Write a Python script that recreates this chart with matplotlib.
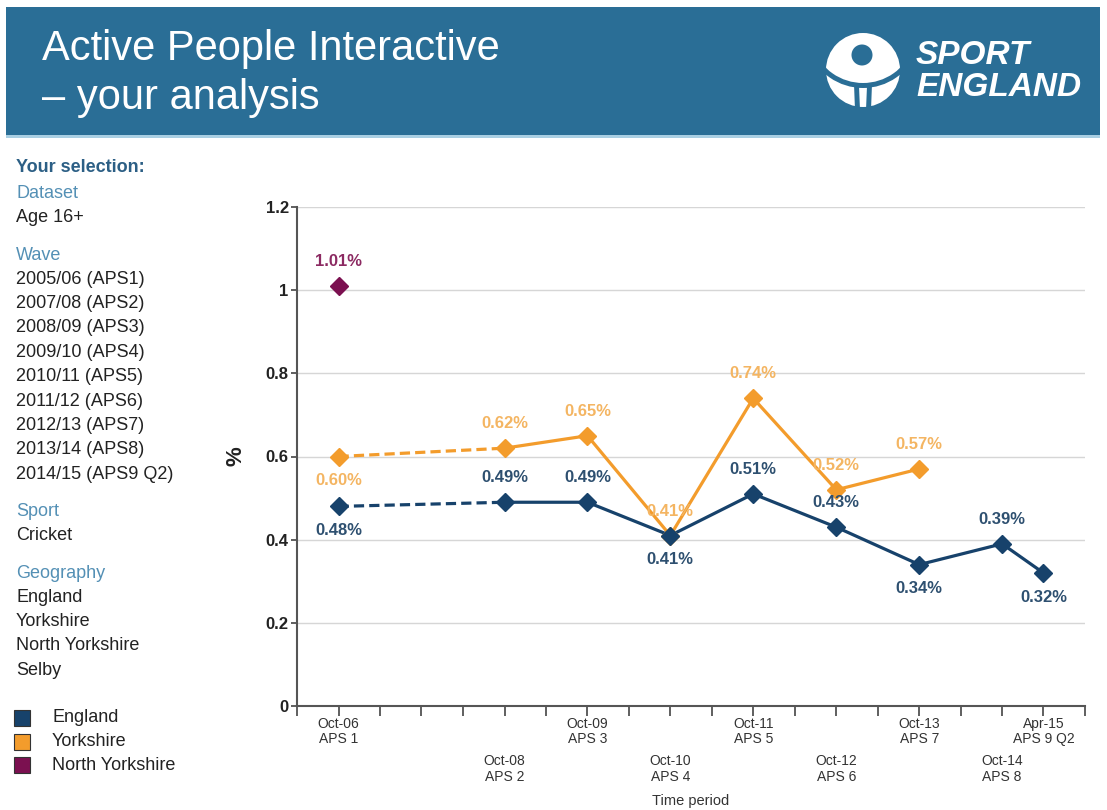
import numpy as np
import pandas as pd
import matplotlib
matplotlib.use('Agg')
import matplotlib.pyplot as plt
import matplotlib.dates as mdates
from matplotlib.patches import Rectangle, Circle, Wedge, Polygon

# ==========
# Chart data
# ==========
periods = ['Oct-06', 'Oct-08', 'Oct-09', 'Oct-10', 'Oct-11', 'Oct-12', 'Oct-13', 'Oct-14', 'Apr-15']
waves = ['APS 1', 'APS 2', 'APS 3', 'APS 4', 'APS 5', 'APS 6', 'APS 7', 'APS 8', 'APS 9 Q2']
england = [0.48, 0.49, 0.49, 0.41, 0.51, 0.43, 0.34, 0.39, 0.32]
yorkshire = [0.60, 0.62, 0.65, 0.41, 0.74, 0.52, 0.57]
north_yorkshire = [1.01]

# where each value label sits (1 = above the point, -1 = below)
england_lbl = [-1, 1, 1, -1, 1, 1, -1, 1, -1]
yorkshire_lbl = [-1, 1, 1, 1, 1, 1, 1]
ny_lbl = [1]

y_ticks = [0, 0.2, 0.4, 0.6, 0.8, 1, 1.2]
y_ticklabels = ['0', '0.2', '0.4', '0.6', '0.8', '1', '1.2']

# side panel text
wave_list = ['2005/06 (APS1)', '2007/08 (APS2)', '2008/09 (APS3)', '2009/10 (APS4)',
             '2010/11 (APS5)', '2011/12 (APS6)', '2012/13 (APS7)', '2013/14 (APS8)',
             '2014/15 (APS9 Q2)']
geography = ['England', 'Yorkshire', 'North Yorkshire', 'Selby']
legend_names = ['England', 'Yorkshire', 'North Yorkshire']

# colours
BANNER = '#2a6e96'
C_ENG, C_YOR, C_NY = '#17426b', '#f39c2c', '#7b1050'
L_ENG, L_YOR, L_NY = '#2e5070', '#f4b562', '#8c2a62'
HEAD = '#2c5f85'
SUB = '#5490b5'
TXT = '#222222'

plt.rcParams['font.family'] = ['Liberation Sans', 'DejaVu Sans']

fig = plt.figure(figsize=(11.07, 8.10), dpi=100)

# ================================
# Background layer in pixel coords
# ================================
bg = fig.add_axes([0, 0, 1, 1], zorder=0)
bg.set_xlim(0, 1107)
bg.set_ylim(810, 0)
bg.axis('off')

# banner
bg.add_patch(Rectangle((6, 7), 1094, 128, color=BANNER, lw=0))
bg.add_patch(Rectangle((6, 135), 1094, 2.5, color='#a9cfe3', lw=0))
bg.text(42, 49, 'Active People Interactive', color='white', fontsize=30, va='center', ha='left')
bg.text(42, 98, '\u2013 your analysis', color='white', fontsize=30, va='center', ha='left')

# logo (rough shape)
cx, cy = 863, 70
bg.add_patch(Circle((cx, cy), 37, color='white', lw=0))
bg.add_patch(Circle((cx - 1, cy - 15), 10.5, color=BANNER, lw=0))
bg.add_patch(Wedge((cx, cy - 40), 58, 20, 160, width=5, color=BANNER, lw=0))
bg.add_patch(Polygon([(cx - 4, cy + 16), (cx - 3, cy + 40), (cx - 8, cy + 40), (cx - 9, cy + 14)],
                     color=BANNER, lw=0))
bg.add_patch(Polygon([(cx + 4, cy + 16), (cx + 3, cy + 40), (cx + 8, cy + 40), (cx + 9, cy + 14)],
                     color=BANNER, lw=0))
bg.text(916, 56, 'SPORT', color='white', fontsize=24, fontweight='bold', fontstyle='italic',
        va='center', ha='left')
bg.text(916, 88, 'ENGLAND', color='white', fontsize=24, fontweight='bold', fontstyle='italic',
        va='center', ha='left')

# selection panel
FS = 13
bg.text(16, 168, 'Your selection:', color=HEAD, fontsize=FS, fontweight='bold', va='center')
bg.text(16, 193, 'Dataset', color=SUB, fontsize=FS, va='center')
bg.text(16, 217, 'Age 16+', color=TXT, fontsize=FS, va='center')
bg.text(16, 255, 'Wave', color=SUB, fontsize=FS, va='center')
for i, w in enumerate(wave_list):
    bg.text(16, 279 + i * 24.4, w, color=TXT, fontsize=FS, va='center')
bg.text(16, 511, 'Sport', color=SUB, fontsize=FS, va='center')
bg.text(16, 535, 'Cricket', color=TXT, fontsize=FS, va='center')
bg.text(16, 573, 'Geography', color=SUB, fontsize=FS, va='center')
for i, g in enumerate(geography):
    bg.text(16, 597 + i * 24.4, g, color=TXT, fontsize=FS, va='center')

for i, (name, col) in enumerate(zip(legend_names, [C_ENG, C_YOR, C_NY])):
    y = 718 + i * 23.5
    bg.add_patch(Rectangle((14, y - 8), 16, 16, facecolor=col, edgecolor='#333333', lw=0.8))
    bg.text(52, y, name, color=TXT, fontsize=FS, va='center')

bg.text(236, 456, '%', fontsize=16, fontweight='bold', rotation=90, va='center', ha='center', color=TXT)
bg.text(691, 801, 'Time period', fontsize=10.5, va='center', ha='center', color='#333333')

# ==========
# Line chart
# ==========
ax = fig.add_axes([297 / 1107, 104 / 810, (1085 - 297) / 1107, (706 - 207) / 810], zorder=1)
ax.patch.set_alpha(0)

x = pd.to_datetime(periods, format='%b-%y').values
x_eng, x_yor, x_ny = x[:len(england)], x[:len(yorkshire)], x[:len(north_yorkshire)]

dash = (0, (3.2, 1.6))
lw = 2.3
ms = 9.5
# gap between APS1 and APS2 is drawn dashed
ax.plot(x_yor[:2], yorkshire[:2], color=C_YOR, lw=lw, ls=dash, zorder=3)
ax.plot(x_yor[1:], yorkshire[1:], color=C_YOR, lw=lw, zorder=3)
ax.plot(x_yor, yorkshire, ls='none', marker='D', ms=ms, color=C_YOR, zorder=4)
ax.plot(x_eng[:2], england[:2], color=C_ENG, lw=lw, ls=dash, zorder=3)
ax.plot(x_eng[1:], england[1:], color=C_ENG, lw=lw, zorder=3)
ax.plot(x_eng, england, ls='none', marker='D', ms=ms, color=C_ENG, zorder=4)
ax.plot(x_ny, north_yorkshire, ls='none', marker='D', ms=ms, color=C_NY, zorder=4)

for xs, vals, pos, col in [(x_eng, england, england_lbl, L_ENG),
                           (x_yor, yorkshire, yorkshire_lbl, L_YOR),
                           (x_ny, north_yorkshire, ny_lbl, L_NY)]:
    for xi, v, p in zip(xs, vals, pos):
        ax.annotate(f'{v:.2f}%', (xi, v), xytext=(0, 17.5 * p), textcoords='offset points',
                    ha='center', va='center', fontsize=12, fontweight='bold', color=col, zorder=5)

ax.set_xlim(pd.Timestamp('2006-04-01'), pd.Timestamp('2015-10-01'))
ax.set_ylim(0, 1.2)

# tick marks every half year, labels only at survey points (staggered in two rows)
half_years = pd.date_range('2006-04-01', '2015-10-01', freq='6MS')
ax.set_xticks(mdates.date2num(half_years))
ax.set_xticklabels([])
ax.tick_params(axis='x', length=7, width=1.2, color='#444444')
for i, (xi, p, w) in enumerate(zip(x, periods, waves)):
    ax.text(xi, -0.022 if i % 2 == 0 else -0.097, f'{p}\n{w}', transform=ax.get_xaxis_transform(),
            ha='center', va='top', fontsize=10, color='#333333', linespacing=1.1)

ax.set_yticks(y_ticks)
ax.set_yticklabels(y_ticklabels, fontsize=12, fontweight='bold', color=TXT)
ax.tick_params(axis='y', length=4, width=1.2, color='#444444', pad=2)

ax.yaxis.grid(True, color='#d6d6d6', lw=1)
ax.set_axisbelow(True)
for s in ['top', 'right']:
    ax.spines[s].set_visible(False)
for s in ['left', 'bottom']:
    ax.spines[s].set_color('#555555')
    ax.spines[s].set_linewidth(1.5)

fig.savefig('out.png', dpi=100)
